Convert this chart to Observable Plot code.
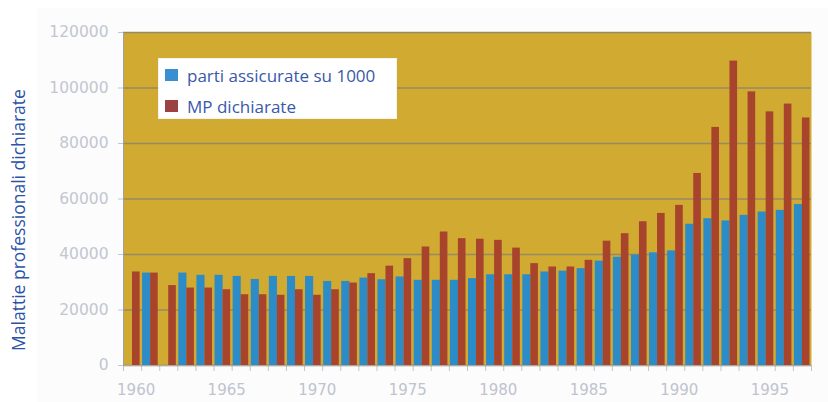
<!DOCTYPE html>
<html>
<head>
<meta charset="utf-8">
<script src="https://cdn.jsdelivr.net/npm/d3@7"></script>
<script src="https://cdn.jsdelivr.net/npm/@observablehq/plot@0.6"></script>
<style>
  html, body { margin: 0; padding: 0; background: #ffffff; }
  #wrap { position: relative; width: 828px; height: 402px; overflow: hidden; }
  #bgpanel { position: absolute; left: 37px; top: 8px; right: 0; bottom: 0; background: #fcfcfc; }
  #chart { position: absolute; left: 0; top: 0; }
  #ytitle {
    position: absolute; left: 18px; top: 220px;
    transform: translate(-50%, -50%) rotate(-90deg);
    white-space: nowrap; font-family: "Open Sans", sans-serif; font-size: 17.5px; color: #2b52a6;
  }
  #legend {
    position: absolute; left: 158px; top: 58px; width: 239px; height: 61px;
    background: #ffffff; box-sizing: border-box; border: 1px solid #f2f2f2;
    font-family: "Open Sans", sans-serif; font-size: 17px; color: #3858aa;
  }
  .row { position: absolute; left: 6px; height: 20px; display: flex; align-items: center; white-space: nowrap; }
  .sw { width: 13px; height: 12px; margin-right: 9px; }
</style>
</head>
<body>
<div id="wrap">
  <div id="bgpanel"></div>
  <div id="chart"></div>
  <div id="ytitle">Malattie professionali dichiarate</div>
  <div id="legend"></div>
</div>
<script>
const years = [1960,1961,1962,1963,1964,1965,1966,1967,1968,1969,
               1970,1971,1972,1973,1974,1975,1976,1977,1978,1979,
               1980,1981,1982,1983,1984,1985,1986,1987,1988,1989,
               1990,1991,1992,1993,1994,1995,1996,1997];
const partiAssicurate = [null,33300,null,33300,32500,32500,32100,31000,32100,32100,
                         32100,30300,30300,31500,30900,31900,30700,30700,30700,31300,
                         32700,32700,32700,33700,34000,34900,37600,39000,39800,40600,
                         41300,50900,52900,52100,54100,55300,55900,58000];
const mpDichiarate = [33700,33300,28800,27900,27900,27300,25500,25500,25300,27300,
                      25300,27300,29700,33100,35800,38500,42700,48100,45700,45500,
                      45100,42300,36700,35500,35500,37900,44800,47500,51800,54800,
                      57700,69200,85800,109700,98600,91400,94200,89200];
const seriesNames = ["parti assicurate su 1000", "MP dichiarate"];
const seriesColors = ["#2b8cc8", "#a8432c"];
const legendColors = ["#3a8fd0", "#9c4242"];
const yTicks = [0,20000,40000,60000,80000,100000,120000];
const xLabelYears = [1960,1965,1970,1975,1980,1985,1990,1995];

const blueData = years.map((y,i) => ({year: y, v: partiAssicurate[i]})).filter(d => d.v != null);
const redData = years.map((y,i) => ({year: y, v: mpDichiarate[i]})).filter(d => d.v != null);
const boundaries = years.map(y => y - 0.5).concat([years[years.length-1] + 0.5]);

const chart = Plot.plot({
  width: 828,
  height: 402,
  marginLeft: 123,
  marginRight: 17,
  marginTop: 32,
  marginBottom: 37,
  style: {background: "transparent", fontFamily: "DejaVu Sans, sans-serif", fontSize: "15.5px", color: "#c3c6d2"},
  x: {domain: [boundaries[0], boundaries[boundaries.length-1]], ticks: boundaries, tickFormat: () => "", tickSize: 6, label: null},
  y: {domain: [0, 120000], ticks: yTicks, tickFormat: d => String(d), tickSize: 5, tickPadding: 10, label: null},
  marks: [
    Plot.frame({fill: "#d1aa31", stroke: null}),
    Plot.ruleY(yTicks, {stroke: "#958a66", strokeWidth: 1.3}),
    Plot.rectY(blueData, {x1: d => d.year - 0.5, x2: d => d.year + 0.5, y: "v", fill: seriesColors[0], insetLeft: 1, insetRight: 9}),
    Plot.rectY(redData, {x1: d => d.year - 0.5, x2: d => d.year + 0.5, y: "v", fill: seriesColors[1], insetLeft: 9, insetRight: 1.5}),
    Plot.ruleX([boundaries[0]], {stroke: "#a0a0a0", strokeWidth: 1}),
    Plot.ruleY([0], {stroke: "#a8a8a8", strokeWidth: 1}),
    Plot.text(xLabelYears, {x: d => d + 0.2, frameAnchor: "bottom", dy: 29, text: d => String(d), fill: "#bfc3cf", fontSize: 15})
  ]
});
document.getElementById("chart").appendChild(chart);

const legend = document.getElementById("legend");
seriesNames.forEach((name, i) => {
  const row = document.createElement("div");
  row.className = "row";
  row.style.top = (6 + i * 31) + "px";
  const sw = document.createElement("div");
  sw.className = "sw";
  sw.style.background = legendColors[i];
  const t = document.createElement("span");
  t.textContent = name;
  row.appendChild(sw);
  row.appendChild(t);
  legend.appendChild(row);
});
</script>
</body>
</html>
